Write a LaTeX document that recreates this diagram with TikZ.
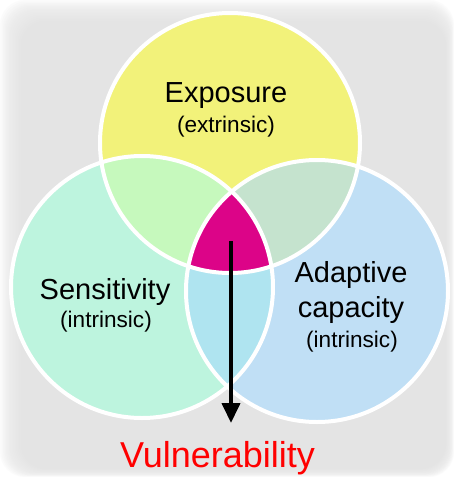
\documentclass[tikz,border=0pt]{standalone}
\usepackage{fontspec}
\setmainfont{Liberation Sans}
\usetikzlibrary{arrows.meta}
\definecolor{bgg}{HTML}{E4E4E4}
\definecolor{cyel}{HTML}{F2F27A}
\definecolor{cmint}{HTML}{BDF4DE}
\definecolor{cblue}{HTML}{C0DFF5}
\definecolor{ctl}{HTML}{C6F9BD}
\definecolor{ctr}{HTML}{C5E3CE}
\definecolor{cbot}{HTML}{AFE4F0}
\definecolor{cmag}{HTML}{DC0488}
\definecolor{cred}{HTML}{FF0000}
\tikzset{
  bigtxt/.style={anchor=base, inner sep=0pt, font=\fontsize{29}{34}\selectfont},
  smalltxt/.style={anchor=base, inner sep=0pt, font=\fontsize{22.6}{27}\selectfont},
  ring/.style={draw=white, line width=4pt},
}
\begin{document}
\begin{tikzpicture}[x=1pt,y=-1pt]
\useasboundingbox (0,0) rectangle (454,477);
\fill[white] (0,0) rectangle (454,477);
\foreach \i in {0,...,19}{
  \fill[bgg, opacity=0.12, rounded corners=25pt] (1.5*\i,1.5*\i) rectangle (454-0.6*\i,477-0.6*\i);
}
\def\TC{(230,143) circle (130)}
\def\LC{(142,287) circle (131)}
\def\RC{(317,291) circle (131)}
% base circles
\fill[cyel] \TC;
\fill[cmint] \LC;
\fill[cblue] \RC;
% pairwise overlaps
\begin{scope}\clip \TC; \fill[ctl] \LC; \end{scope}
\begin{scope}\clip \TC; \fill[ctr] \RC; \end{scope}
\begin{scope}\clip \LC; \fill[cbot] \RC; \end{scope}
\begin{scope}\clip \TC; \clip \LC; \fill[cmag] \RC; \end{scope}
% white outlines
\draw[ring] \TC;
\draw[ring] \LC;
\draw[ring] \RC;
% texts
\node[bigtxt] (exp) at (226,102.5) {Exposure};
\node[smalltxt] (expsub) at (226,132) {(extrinsic)};
\node[bigtxt] (sen) at (105,299) {Sensitivity};
\node[smalltxt] (sensub) at (106,327) {(intrinsic)};
\node[bigtxt] (ada) at (351,282) {Adaptive};
\node[bigtxt] (cap) at (351,317) {capacity};
\node[smalltxt] (adasub) at (352,347) {(intrinsic)};
\node[anchor=base, inner sep=0pt, text=cred, font=\fontsize{36}{42}\selectfont] (vul) at (217.5,467) {Vulnerability};
% arrow
\coordinate (as) at (231,241);
\coordinate (ae) at (231,423);
\draw[line width=4pt, -{Triangle[width=18pt,length=20pt]}] (as) -- (ae);
\end{tikzpicture}
\end{document}
